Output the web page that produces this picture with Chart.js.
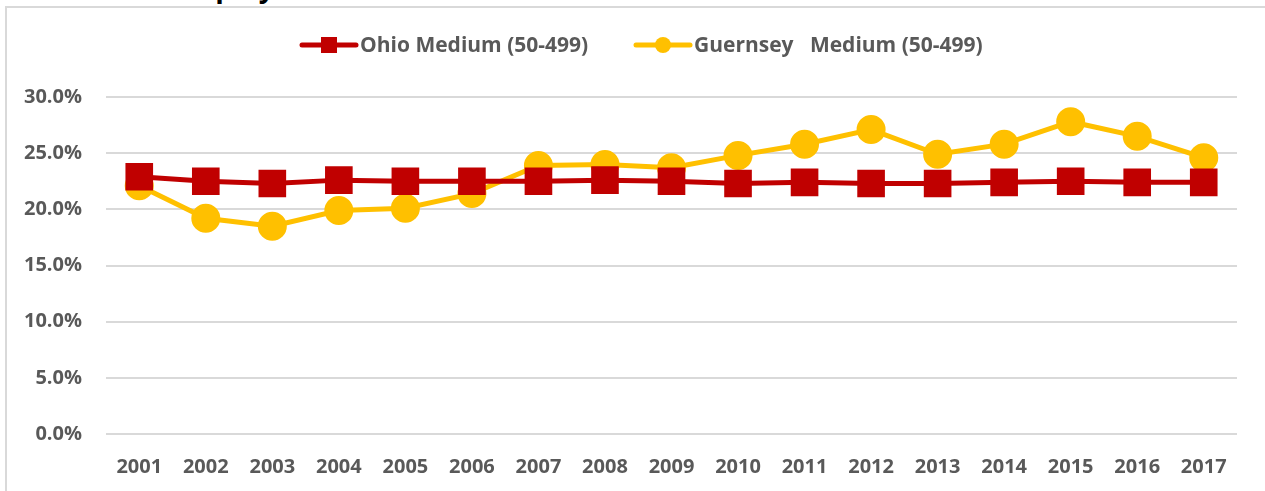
<!DOCTYPE html>
<html>
<head>
<meta charset="utf-8">
<script src="https://cdn.jsdelivr.net/npm/chart.js@4/dist/chart.umd.min.js"></script>
<style>
  html, body { margin: 0; padding: 0; background: #fff; overflow: hidden; width: 1265px; height: 491px; }
  #title { position: absolute; left: 172px; top: -33px; font: bold 28px "Open Sans", sans-serif; color: #000; white-space: nowrap; }
  #box { position: absolute; left: 5px; top: 6px; width: 1300px; height: 500px; border-left: 2px solid #d9d9d9; border-top: 2px solid #d9d9d9; background: #fff; }
  #wrap { position: absolute; left: 0; top: 0; width: 1258px; height: 483px; }
</style>
</head>
<body>
<div id="title">Employment Share: Medium Establishments</div>
<div id="box"><div id="wrap"><canvas id="c"></canvas></div></div>
<script>
// years on the x axis
const years = ['2001','2002','2003','2004','2005','2006','2007','2008','2009','2010','2011','2012','2013','2014','2015','2016','2017'];
// share of employment, medium establishments (50-499)
const ohio     = [0.229, 0.225, 0.223, 0.226, 0.225, 0.225, 0.225, 0.226, 0.225, 0.223, 0.224, 0.223, 0.223, 0.224, 0.225, 0.224, 0.224];
const guernsey = [0.221, 0.192, 0.185, 0.199, 0.201, 0.214, 0.239, 0.240, 0.237, 0.248, 0.258, 0.271, 0.249, 0.258, 0.278, 0.265, 0.246];
const yTicks = [0, 0.05, 0.10, 0.15, 0.20, 0.25, 0.30];

const red = '#c00000';
const gold = '#ffc000';
const grey = '#595959';
const font = '"Open Sans", sans-serif';

// legend drawn by hand so the line goes through the marker, like excel
const lineLegend = {
  id: 'lineLegend',
  afterDraw(chart) {
    const ctx = chart.ctx;
    const items = [
      { x: 295, label: 'Ohio Medium (50-499)', color: red, style: 'rect' },
      { x: 629, label: 'Guernsey   Medium (50-499)', color: gold, style: 'circle' }
    ];
    const y = 37;
    ctx.save();
    items.forEach(it => {
      ctx.strokeStyle = it.color;
      ctx.fillStyle = it.color;
      ctx.lineWidth = 5;
      ctx.lineCap = 'round';
      ctx.beginPath();
      ctx.moveTo(it.x, y);
      ctx.lineTo(it.x + 54, y);
      ctx.stroke();
      const cx = it.x + 27;
      if (it.style == 'rect') {
        ctx.fillRect(cx - 8, y - 8, 16, 16);
      } else {
        ctx.beginPath();
        ctx.arc(cx, y, 8, 0, Math.PI * 2);
        ctx.fill();
      }
      ctx.fillStyle = grey;
      ctx.font = 'bold 21px ' + font;
      ctx.textBaseline = 'middle';
      ctx.fillText(it.label, it.x + 58, y + 1);
    });
    ctx.restore();
  }
};

new Chart(document.getElementById('c'), {
  type: 'line',
  data: {
    labels: years,
    datasets: [{
      label: 'Ohio Medium (50-499)',
      data: ohio,
      borderColor: red,
      backgroundColor: red,
      borderWidth: 5,
      pointStyle: 'rect',
      pointRadius: 16,
      pointHoverRadius: 16,
      fill: false,
      lineTension: 0
    }, {
      label: 'Guernsey   Medium (50-499)',
      data: guernsey,
      borderColor: gold,
      backgroundColor: gold,
      borderWidth: 5,
      pointStyle: 'circle',
      pointRadius: 12,
      pointHoverRadius: 12,
      fill: false,
      lineTension: 0
    }]
  },
  options: {
    responsive: true,
    maintainAspectRatio: false,
    animation: false,
    layout: { padding: { top: 89, left: 0, right: 28, bottom: 0 } },
    plugins: {
      legend: { display: false },
      title: { display: false },
      tooltip: { enabled: false }
    },
    scales: {
      x: {
        offset: true,
        grid: { display: false },
        border: { display: false },
        ticks: { color: grey, font: { family: font, size: 20, weight: 'bold' }, padding: 13, maxRotation: 0 },
        afterFit(scale) { scale.height = 57; }
      },
      y: {
        min: 0,
        max: 0.3,
        afterBuildTicks(scale) { scale.ticks = yTicks.map(v => ({ value: v })); },
        grid: { color: '#d9d9d9', lineWidth: 2, drawTicks: false },
        border: { display: false },
        ticks: {
          color: grey,
          font: { family: font, size: 20, weight: 'bold' },
          padding: 24,
          callback: v => (v * 100).toFixed(1) + '%'
        },
        afterFit(scale) { scale.width = 99; }
      }
    }
  },
  plugins: [lineLegend]
});
</script>
</body>
</html>
